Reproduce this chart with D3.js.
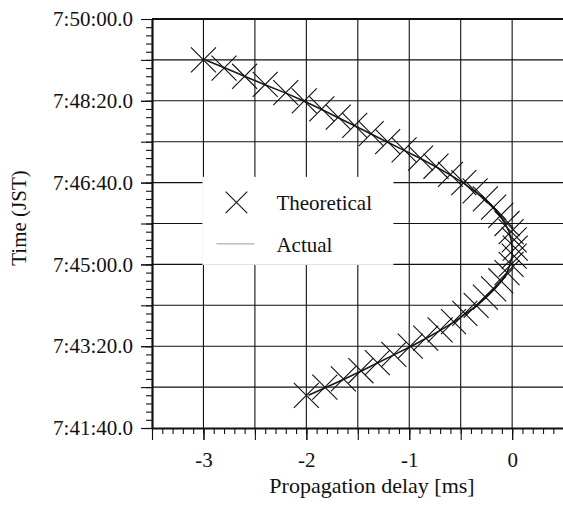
<!DOCTYPE html>
<html>
<head>
<meta charset="utf-8">
<script src="https://cdn.jsdelivr.net/npm/d3@7"></script>
<style>
  body { margin: 0; background: #fff; }
  svg text { font-family: "Liberation Serif", "Times New Roman", serif; fill: #111; }
</style>
</head>
<body>
<div id="chart"></div>
<script>
// Propagation delay against time: theoretical marks and the measured curve

// Sample times (JST), one every ten seconds
let times = ["7:42:20", "7:42:30", "7:42:40", "7:42:50", "7:43:00", "7:43:10",
    "7:43:20", "7:43:30", "7:43:40", "7:43:50", "7:44:00", "7:44:10",
    "7:44:20", "7:44:30", "7:44:40", "7:44:50", "7:45:00", "7:45:10",
    "7:45:20", "7:45:30", "7:45:40", "7:45:50", "7:46:00", "7:46:10",
    "7:46:20", "7:46:30", "7:46:40", "7:46:50", "7:47:00", "7:47:10",
    "7:47:20", "7:47:30", "7:47:40", "7:47:50", "7:48:00", "7:48:10",
    "7:48:20", "7:48:30", "7:48:40", "7:48:50", "7:49:00", "7:49:10"];

// Delay in ms
let theoretical = [-2.00, -1.82, -1.64, -1.47, -1.31, -1.15,
    -0.99, -0.84, -0.70, -0.57, -0.46, -0.35,
    -0.26, -0.18, -0.11, -0.05, -0.01, 0.02,
    0.03, 0.02, -0.01, -0.05, -0.11, -0.18,
    -0.26, -0.36, -0.47, -0.60, -0.74, -0.89,
    -1.05, -1.21, -1.37, -1.53, -1.69, -1.85,
    -2.02, -2.20, -2.40, -2.60, -2.80, -3.00];

let actual = [-1.98, -1.80, -1.63, -1.46, -1.30, -1.14,
    -0.98, -0.83, -0.69, -0.56, -0.45, -0.34,
    -0.25, -0.17, -0.10, -0.05, -0.02, 0.00,
    0.00, -0.01, -0.03, -0.07, -0.12, -0.19,
    -0.27, -0.37, -0.48, -0.61, -0.75, -0.90,
    -1.06, -1.22, -1.38, -1.54, -1.70, -1.86,
    -2.03, -2.21, -2.41, -2.60, -2.79, -2.98];

// Axis ticks
let xTicks = [-3, -2, -1, 0];
let yTicks = ["7:41:40", "7:43:20", "7:45:00", "7:46:40", "7:48:20", "7:50:00"];

let legendItems = ["Theoretical", "Actual"];

// Chart size
let width = 563,
    height = 507,
    margin = { top: 19, left: 152, bottom: 79 };

let parseTime = d3.timeParse("%H:%M:%S");
let fmtTime = d3.timeFormat("%-H:%M:%S.0");

let t0 = parseTime(yTicks[0]),
    t1 = parseTime(yTicks[yTicks.length - 1]);

let data = times.map((t, i) => ({
    time: parseTime(t),
    theo: theoretical[i],
    act: actual[i]
}));

// Scales
let x = d3.scaleLinear()
    .domain([-3.5, 0.5])
    .range([margin.left, margin.left + 4 * 102.9]);

let y = d3.scaleTime()
    .domain([t0, t1])
    .range([height - margin.bottom, margin.top]);

let svg = d3.select("#chart")
    .append("svg")
    .attr("width", width)
    .attr("height", height);

let x0 = x.range()[0], x1 = x.range()[1];
let yb = y.range()[0], yt = y.range()[1];

// Grid lines every 0.5 ms and every 50 s
let grid = svg.append("g")
    .attr("stroke", "#111")
    .attr("stroke-width", 1.1);

grid.selectAll(".vgrid")
    .data(d3.range(-3, 0.51, 0.5))
    .join("line")
    .attr("x1", d => x(d)).attr("x2", d => x(d))
    .attr("y1", yt).attr("y2", yb);

grid.selectAll(".hgrid")
    .data(d3.timeSecond.range(t0, t1, 50).slice(1))
    .join("line")
    .attr("x1", x0).attr("x2", x1)
    .attr("y1", d => y(d)).attr("y2", d => y(d));

// Legend background hides the grid behind it
let legend = svg.append("g")
    .attr("transform", `translate(${x(-3.01)}, ${y(parseTime("7:46:47"))})`);

legend.append("rect")
    .attr("width", 191)
    .attr("height", 88)
    .attr("fill", "#fff");

// Actual curve
let line = d3.line()
    .x(d => x(d.act))
    .y(d => y(d.time));

svg.append("path")
    .datum(data)
    .attr("fill", "none")
    .attr("stroke", "#1a1a1a")
    .attr("stroke-width", 1.6)
    .attr("stroke-linejoin", "round")
    .attr("d", line);

// Theoretical X marks
let xSym = d3.symbol().type(d3.symbolX).size(410);

svg.append("g").selectAll("path")
    .data(data)
    .join("path")
    .attr("transform", d => `translate(${x(d.theo)}, ${y(d.time)})`)
    .attr("d", xSym)
    .attr("fill", "none")
    .attr("stroke", "#111")
    .attr("stroke-width", 1.1);

// Legend entries
legend.append("path")
    .attr("transform", "translate(34, 25.5)")
    .attr("d", d3.symbol().type(d3.symbolX).size(306))
    .attr("fill", "none")
    .attr("stroke", "#111")
    .attr("stroke-width", 1.1);

legend.append("line")
    .attr("x1", 14).attr("x2", 52)
    .attr("y1", 67).attr("y2", 67)
    .attr("stroke", "#999")
    .attr("stroke-width", 1);

legend.selectAll("text")
    .data(legendItems)
    .join("text")
    .attr("x", 74)
    .attr("y", (d, i) => 33 + i * 42)
    .attr("font-size", 21)
    .text(d => d);

// Minor ticks
let xMinor = svg.append("g")
    .attr("transform", `translate(0, ${yb})`)
    .call(d3.axisBottom(x).tickValues(d3.range(-3.5, 0.55, 0.1)).tickSize(6).tickFormat(""));
xMinor.select(".domain").remove();

let yMinor = svg.append("g")
    .attr("transform", `translate(${x0}, 0)`)
    .call(d3.axisLeft(y).tickValues(d3.timeSecond.range(t0, t1, 10)).tickSize(6).tickFormat(""));
yMinor.select(".domain").remove();

// Major ticks at each grid line
let xMid = svg.append("g")
    .attr("transform", `translate(0, ${yb})`)
    .call(d3.axisBottom(x).tickValues(d3.range(-3.5, 0.51, 0.5)).tickSize(12).tickFormat(""));
xMid.select(".domain").remove();

let yMid = svg.append("g")
    .attr("transform", `translate(${x0}, 0)`)
    .call(d3.axisLeft(y).tickValues(d3.timeSecond.range(t0, t1, 50)).tickSize(11).tickFormat(""));
yMid.select(".domain").remove();

// Labelled axes
let xaxis = svg.append("g")
    .attr("transform", `translate(0, ${yb})`)
    .call(d3.axisBottom(x).tickValues(xTicks).tickFormat(d => String(d))
        .tickSize(12).tickPadding(12).tickSizeOuter(0));

let yaxis = svg.append("g")
    .attr("transform", `translate(${x0}, 0)`)
    .call(d3.axisLeft(y).tickValues(yTicks.map(parseTime)).tickFormat(fmtTime)
        .tickSize(11).tickPadding(8).tickSizeOuter(0));

svg.selectAll(".tick line").attr("stroke", "#111").attr("stroke-width", 1.1);
svg.selectAll(".domain").attr("stroke", "#111").attr("stroke-width", 2.2);
svg.selectAll(".tick text")
    .attr("font-size", 21)
    .attr("font-family", "Liberation Serif")
    .attr("fill", "#111");

// Top frame line
svg.append("line")
    .attr("x1", x0).attr("x2", x1)
    .attr("y1", yt).attr("y2", yt)
    .attr("stroke", "#111")
    .attr("stroke-width", 2.2);

// Axis titles
svg.append("text")
    .attr("x", 372)
    .attr("y", 493)
    .attr("text-anchor", "middle")
    .attr("font-size", 22)
    .text("Propagation delay [ms]");

svg.append("text")
    .attr("transform", "translate(26, 218) rotate(-90)")
    .attr("text-anchor", "middle")
    .attr("font-size", 21)
    .text("Time (JST)");
</script>
</body>
</html>
